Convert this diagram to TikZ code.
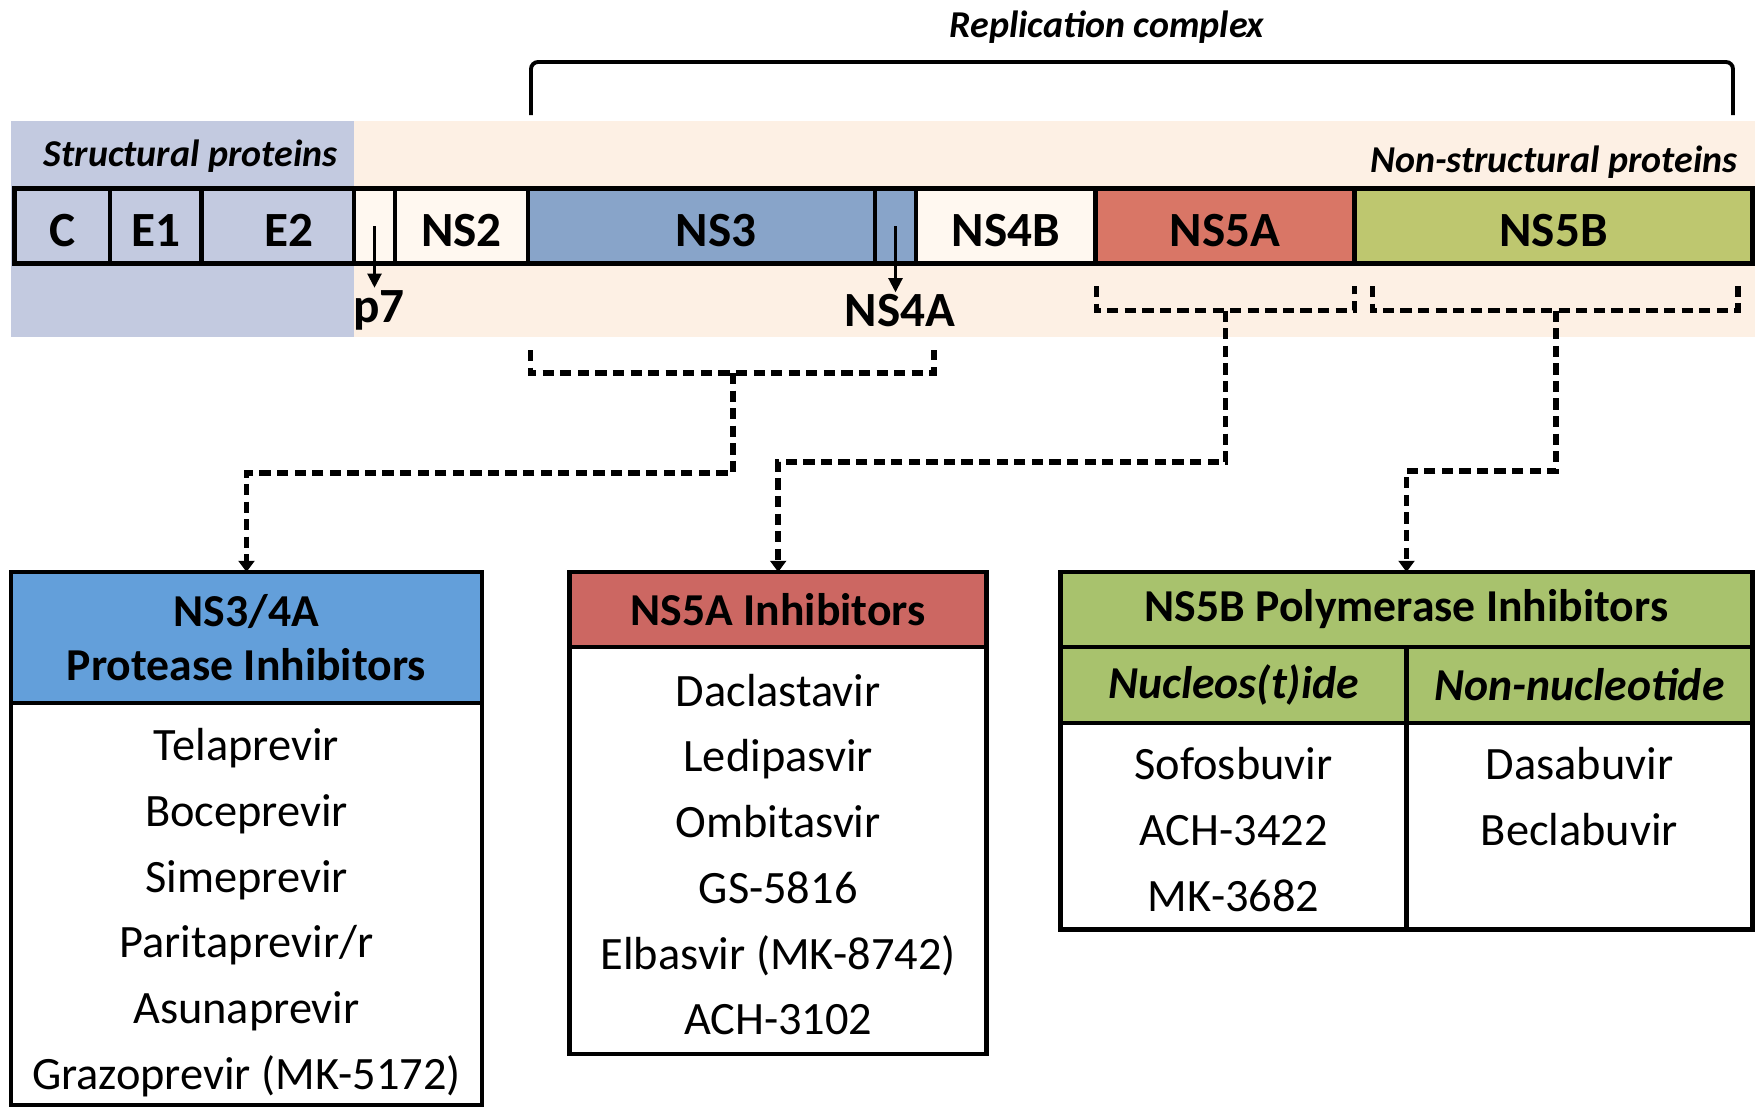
\documentclass[tikz,border=0pt]{standalone}
\usepackage{fontspec}
\setmainfont{Carlito}
\usepackage{tikz}
\usetikzlibrary{positioning, arrows.meta}

\definecolor{strucbg}{RGB}{195,202,224}
\definecolor{nsbg}{RGB}{253,240,228}
\definecolor{nslight}{RGB}{255,248,240}
\definecolor{ns3col}{RGB}{136,164,201}
\definecolor{ns5acol}{RGB}{217,118,102}
\definecolor{ns5bcol}{RGB}{190,199,111}
\definecolor{piblue}{RGB}{99,159,218}
\definecolor{nsared}{RGB}{204,103,98}
\definecolor{nsbgreen}{RGB}{168,194,109}

\tikzset{
  seg/.style={draw, line width=1.4pt, minimum height=0.75cm, inner sep=0pt, outer sep=0pt, text height=11.6pt, text depth=0pt, font=\fontsize{14}{14}\selectfont\bfseries},
  hdr/.style={draw, line width=1.4pt, inner sep=0pt, outer sep=0pt, align=center, font=\fontsize{13}{15.3}\selectfont\bfseries},
  body/.style={draw, line width=1.4pt, inner sep=0pt, outer sep=0pt, align=center, fill=white, font=\fontsize{13.2}{18.7}\selectfont},
  dashline/.style={line width=1.6pt, dash pattern=on 3.2pt off 1.8pt},
  conn/.style={dashline, -{Triangle[width=4.5pt,length=3.2pt]}},
  tag/.style={inner sep=0pt, font=\fontsize{10.8}{12}\selectfont\bfseries\itshape}
}

\begin{document}
\begin{tikzpicture}
\useasboundingbox (0,0) rectangle (17.58,-11.08);

\fill[strucbg] (0.11,-1.21) rectangle (3.54,-3.37);
\fill[nsbg] (3.54,-1.21) rectangle (17.55,-3.37);
\node[tag] (struct) at (1.906,-1.56) {Structural proteins};
\node[tag, anchor=east] (nonstruct) at (17.38,-1.62) {Non-structural proteins};

\node[tag] (repl) at (11.07,-0.27) {Replication complex};
\draw[line width=1.1pt, rounded corners=2pt] (5.31,-1.15) -- (5.31,-0.62) -- (17.33,-0.62) -- (17.33,-1.15);

\node[seg, minimum width=0.954cm] (c) at (0.623,-2.26) {C};
\node[seg, minimum width=0.918cm, right=0pt of c] (e1) {E1};
\node[seg, minimum width=1.522cm, right=0pt of e1] (e2) {\hspace*{0.22cm}E2};
\node[seg, fill=nslight, minimum width=0.41cm, line width=1.2pt, right=0pt of e2] (p7) {};
\node[seg, fill=nslight, minimum width=1.33cm, right=0pt of p7] (ns2) {NS2};
\node[seg, fill=ns3col, minimum width=3.47cm, right=0pt of ns2] (ns3) {\hspace*{0.29cm}NS3};
\node[seg, fill=ns3col, minimum width=0.41cm, right=0pt of ns3] (ns4a) {};
\node[seg, fill=nslight, minimum width=1.795cm, right=0pt of ns4a] (ns4b) {NS4B};
\node[seg, fill=ns5acol, minimum width=2.59cm, right=0pt of ns4b] (ns5a) {NS5A};
\node[seg, fill=ns5bcol, minimum width=3.98cm, right=0pt of ns5a] (ns5b) {NS5B};

\node[inner sep=0.5pt, font=\fontsize{14}{14}\selectfont\bfseries] (p7lbl) at (3.79,-3.10) {p7};
\node[inner sep=0.5pt, font=\fontsize{14}{14}\selectfont\bfseries] (ns4albl) at (9.0,-3.11) {NS4A};
\draw[line width=0.6pt, -{Triangle[width=4pt,length=4pt]}] (p7.center) -- (p7.center |- p7lbl.north);
\draw[line width=0.6pt, -{Triangle[width=4pt,length=4pt]}] (ns4a.center) -- (ns4a.center |- ns4albl.north);

\draw[dashline] (5.305,-3.50) -- (5.305,-3.73) -- (9.34,-3.73) -- (9.34,-3.50);
\coordinate (b1) at (7.33,-3.73);
\draw[dashline] (10.966,-2.86) -- (10.966,-3.106) -- (13.544,-3.106) -- (13.544,-2.86);
\coordinate (b2) at (12.255,-3.106);
\draw[dashline] (13.723,-2.86) -- (13.723,-3.106) -- (17.38,-3.106) -- (17.38,-2.86);
\coordinate (b3) at (15.562,-3.106);

\node[hdr, fill=piblue, minimum width=4.71cm, minimum height=1.31cm] (pihdr) at (2.465,-6.375) {NS3/4A\\Protease Inhibitors};
\node[body, minimum width=4.71cm, minimum height=4.02cm, below=0pt of pihdr] (pilist) {\rule{0pt}{14pt}Telaprevir\\Boceprevir\\Simeprevir\\Paritaprevir/r\\Asunaprevir\\Grazoprevir (MK-5172)};

\node[hdr, fill=nsared, minimum width=4.17cm, minimum height=0.75cm] (nsahdr) at (7.782,-6.095) {NS5A Inhibitors};
\node[body, minimum width=4.17cm, minimum height=4.07cm, below=0pt of nsahdr] (nsalist) {\rule{0pt}{11.5pt}Daclastavir\\Ledipasvir\\Ombitasvir\\GS-5816\\Elbasvir (MK-8742)\\ACH-3102};

\node[hdr, fill=nsbgreen, minimum width=6.917cm, minimum height=0.75cm] (nsbhdr) at (14.065,-6.095) {NS5B Polymerase Inhibitors};
\node[hdr, fill=nsbgreen, font=\fontsize{13}{15}\selectfont\bfseries\itshape, minimum width=3.4585cm, minimum height=0.76cm, anchor=north west] (nuc) at (nsbhdr.south west) {Nucleos(t)ide};
\node[hdr, fill=nsbgreen, font=\fontsize{13}{15}\selectfont\bfseries\itshape, minimum width=3.4585cm, minimum height=0.76cm, anchor=north east] (nonnuc) at (nsbhdr.south east) {Non-nucleotide};
\node[body, minimum width=3.4585cm, minimum height=2.065cm, below=0pt of nuc] (nuclist) {\rule{0pt}{11pt}Sofosbuvir\\ACH-3422\\MK-3682};
\node[body, minimum width=3.4585cm, minimum height=2.065cm, below=0pt of nonnuc] (nonnuclist) {\rule{0pt}{11pt}Dasabuvir\\Beclabuvir\\\mbox{}};

\draw[conn] (b1) -- ++(0,-1.0) -| (pihdr.north);
\draw[conn] (b2) -- ++(0,-1.514) -| (nsahdr.north);
\draw[conn] (b3) -- ++(0,-1.604) -| (nsbhdr.north);

\end{tikzpicture}
\end{document}
